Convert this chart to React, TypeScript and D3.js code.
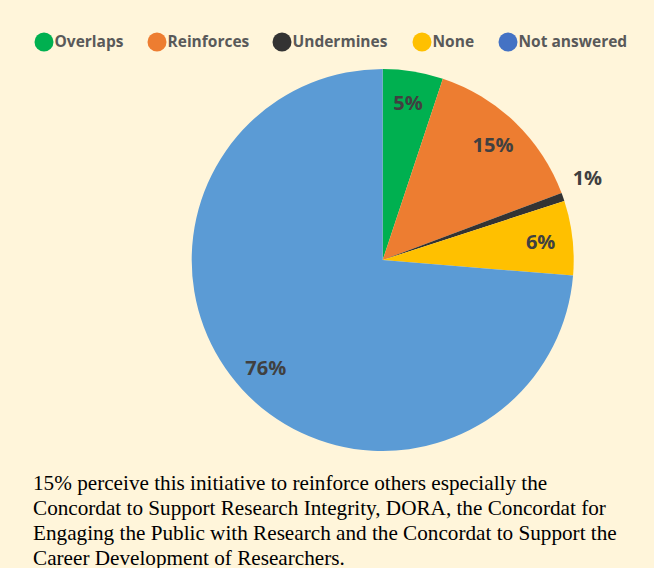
import React from "react";
import * as d3 from "d3";

const categories = ["Overlaps", "Reinforces", "Undermines", "None", "Not answered"];
const values = [5.1, 14.2, 0.7, 6.3, 73.7];
const valueLabels = ["5%", "15%", "1%", "6%", "76%"];
const sliceColors = ["#00B050", "#ED7D31", "#333333", "#FFC000", "#5B9BD5"];
const legendColors = ["#00B050", "#ED7D31", "#333333", "#FFC000", "#4472C4"];
const legendX = [44, 157, 282, 422, 508];
const captionLines = [
  "15% perceive this initiative to reinforce others especially the",
  "Concordat to Support Research Integrity, DORA, the Concordat for",
  "Engaging the Public with Research and the Concordat to Support the",
  "Career Development of Researchers.",
];

export default function App() {
  const W = 654, H = 568;
  const cx = 382.7, cy = 260, R = 191;
  const pie = d3.pie<number>().sort(null).value((d) => d);
  const arcs = pie(values);
  const arc = d3.arc<d3.PieArcDatum<number>>().innerRadius(0).outerRadius(R);
  const labelArc = d3.arc<d3.PieArcDatum<number>>().innerRadius(159).outerRadius(159);
  const outArc = d3.arc<d3.PieArcDatum<number>>().innerRadius(220).outerRadius(220);
  return (
    <svg width={W} height={H} style={{ position: "absolute", left: 0, top: 0 }}>
      <rect width={W} height={H} fill="#FFF5DA" />
      <g transform={`translate(${cx},${cy})`}>
        {arcs.map((a, i) => (
          <path key={i} d={arc(a) || ""} fill={sliceColors[i]} />
        ))}
        {arcs.map((a, i) => {
          const small = values[i] < 2;
          let [x, y] = small ? outArc.centroid(a) : labelArc.centroid(a);
          if (small) { x -= 3; y -= 9; }
          return (
            <text key={i} x={x} y={y} dy="0.35em" textAnchor="middle"
              fontFamily="Open Sans" fontWeight="bold" fontSize={20} fill="#404040">
              {valueLabels[i]}
            </text>
          );
        })}
      </g>
      <g>
        {categories.map((c, i) => (
          <g key={c}>
            <circle cx={legendX[i]} cy={42} r={9.5} fill={legendColors[i]} />
            <text x={legendX[i] + 10.5} y={42} dy="0.35em" fontFamily="Open Sans"
              fontWeight="bold" fontSize={15.5} fill="#595959">{c}</text>
          </g>
        ))}
      </g>
      <g>
        {captionLines.map((l, i) => (
          <text key={i} x={33} y={490 + i * 25} fontFamily="Liberation Serif"
            fontSize={21.2} fill="#000">{l}</text>
        ))}
      </g>
    </svg>
  );
}
